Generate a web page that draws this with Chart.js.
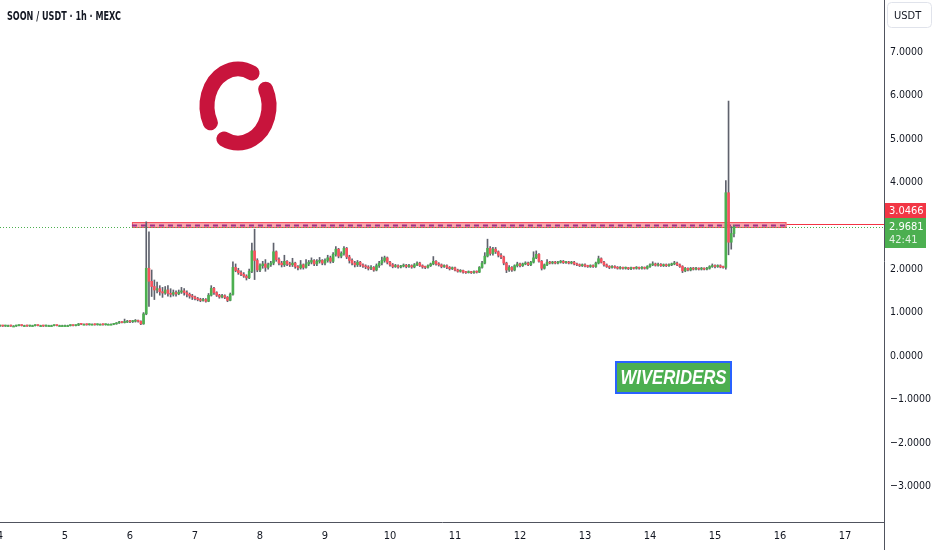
<!DOCTYPE html>
<html>
<head>
<meta charset="utf-8">
<script src="https://cdn.jsdelivr.net/npm/chart.js@4.4.1/dist/chart.umd.min.js"></script>
<style>
  html, body { margin: 0; padding: 0; background: #fff; }
  #wrap { width: 932px; height: 550px; }
</style>
</head>
<body>
<div id="wrap"><canvas id="chart" width="932" height="550"></canvas></div>
<script>
// SOON / USDT 1h candles, first candle at day 4 00:00
const startDay = 4;

const opens = [
  0.69,0.70,0.69,0.70,0.70,0.69,0.69,0.70,0.71,0.70,0.70,0.69,0.70,0.70,0.71,0.70,0.70,0.69,0.70,0.70,0.70,0.71,0.70,0.70, // 4
  0.70,0.70,0.70,0.71,0.70,0.71,0.74,0.73,0.73,0.72,0.73,0.73,0.72,0.73,0.73,0.72,0.73,0.73,0.73,0.74,0.76,0.78,0.77,0.78, // 5
  0.80,0.79,0.80,0.81,0.80,0.74,0.97,2.02,1.72,1.60,1.52,1.55,1.48,1.45,1.52,1.44,1.42,1.46,1.43,1.47,1.50,1.46,1.42,1.38, // 6
  1.36,1.32,1.30,1.28,1.30,1.26,1.40,1.56,1.46,1.40,1.36,1.39,1.35,1.28,1.42,2.04,1.97,1.92,1.88,1.84,1.80,1.95,2.42,2.20, // 7
  1.98,2.08,2.12,2.04,2.10,2.14,2.40,2.22,2.14,2.10,2.18,2.12,2.10,2.14,2.06,2.03,2.10,2.04,2.12,2.16,2.20,2.12,2.18,2.20, // 8
  2.14,2.20,2.26,2.18,2.34,2.46,2.30,2.36,2.48,2.28,2.20,2.14,2.10,2.16,2.10,2.07,2.05,2.02,2.04,1.98,2.08,2.14,2.20,2.26, // 9
  2.16,2.10,2.06,2.08,2.05,2.07,2.09,2.06,2.08,2.05,2.10,2.14,2.08,2.05,2.04,2.08,2.12,2.18,2.12,2.10,2.06,2.08,2.04,2.01, // 10
  2.03,1.98,1.95,1.97,1.93,1.92,1.94,1.92,1.94,1.93,2.04,2.14,2.30,2.48,2.36,2.46,2.40,2.32,2.28,2.14,1.98,2.04,1.98,2.08, // 11
  2.12,2.08,2.12,2.14,2.10,2.16,2.26,2.34,2.18,2.02,2.10,2.16,2.14,2.16,2.14,2.16,2.18,2.15,2.16,2.14,2.16,2.12,2.10,2.08, // 12
  2.10,2.07,2.06,2.08,2.06,2.14,2.24,2.16,2.10,2.06,2.04,2.06,2.04,2.02,2.04,2.02,2.03,2.01,2.03,2.02,2.04,2.02,2.04,2.02, // 13
  2.06,2.10,2.12,2.09,2.11,2.08,2.10,2.08,2.10,2.12,2.14,2.10,2.06,1.96,2.02,1.98,2.02,2.00,2.02,2.00,2.02,2.00,2.02,2.06, // 14
  2.08,2.06,2.08,2.05,2.04,3.76,2.62,2.82                                                                                  // 15
];
const highs = [
  0.71,0.71,0.71,0.71,0.71,0.70,0.71,0.72,0.72,0.71,0.71,0.71,0.71,0.72,0.72,0.71,0.71,0.71,0.71,0.71,0.72,0.72,0.71,0.71,
  0.71,0.71,0.72,0.72,0.72,0.75,0.75,0.74,0.74,0.74,0.74,0.74,0.74,0.74,0.74,0.74,0.74,0.74,0.75,0.77,0.80,0.79,0.85,0.82,
  0.82,0.82,0.84,0.83,0.81,1.00,3.09,2.86,1.98,1.75,1.70,1.62,1.58,1.60,1.62,1.55,1.52,1.50,1.52,1.58,1.55,1.50,1.45,1.42,
  1.38,1.35,1.33,1.33,1.32,1.44,1.62,1.58,1.48,1.42,1.42,1.41,1.37,1.45,2.17,2.12,2.02,1.96,1.92,1.87,2.00,2.60,2.92,2.24,
  2.12,2.18,2.22,2.14,2.18,2.60,2.42,2.26,2.18,2.32,2.20,2.16,2.25,2.16,2.08,2.20,2.12,2.22,2.20,2.26,2.22,2.22,2.27,2.22,
  2.24,2.32,2.30,2.38,2.52,2.48,2.40,2.52,2.50,2.32,2.24,2.18,2.20,2.18,2.12,2.10,2.08,2.08,2.06,2.12,2.18,2.28,2.30,2.28,
  2.18,2.13,2.11,2.10,2.09,2.12,2.11,2.11,2.10,2.13,2.17,2.16,2.10,2.07,2.10,2.14,2.29,2.20,2.15,2.12,2.10,2.10,2.06,2.05,
  2.05,2.00,1.99,1.98,1.95,1.96,1.95,1.96,1.96,2.06,2.18,2.38,2.69,2.52,2.50,2.50,2.42,2.36,2.30,2.16,2.08,2.06,2.10,2.16,
  2.14,2.14,2.17,2.16,2.18,2.40,2.42,2.36,2.20,2.12,2.22,2.18,2.18,2.18,2.18,2.20,2.20,2.18,2.18,2.18,2.18,2.14,2.12,2.12,
  2.12,2.09,2.10,2.10,2.16,2.30,2.26,2.18,2.12,2.08,2.08,2.08,2.06,2.06,2.05,2.05,2.04,2.05,2.04,2.06,2.05,2.06,2.05,2.08,
  2.12,2.17,2.14,2.14,2.13,2.12,2.12,2.12,2.14,2.18,2.16,2.12,2.08,2.04,2.03,2.04,2.04,2.04,2.03,2.04,2.03,2.04,2.08,2.12,
  2.10,2.10,2.10,2.07,4.04,5.87,2.98,3.02
];
const lows = [
  0.68,0.68,0.68,0.69,0.68,0.68,0.68,0.69,0.69,0.69,0.68,0.68,0.69,0.69,0.69,0.69,0.68,0.68,0.69,0.69,0.69,0.69,0.69,0.69,
  0.69,0.69,0.69,0.69,0.69,0.70,0.72,0.72,0.71,0.71,0.72,0.71,0.71,0.72,0.71,0.71,0.72,0.72,0.72,0.73,0.75,0.76,0.76,0.77,
  0.77,0.77,0.78,0.78,0.72,0.73,0.95,1.14,1.37,1.30,1.45,1.40,1.35,1.42,1.38,1.36,1.38,1.38,1.41,1.44,1.40,1.36,1.33,1.30,
  1.29,1.27,1.25,1.26,1.24,1.25,1.38,1.42,1.37,1.33,1.34,1.32,1.25,1.27,1.40,1.94,1.88,1.85,1.81,1.75,1.78,1.92,1.76,1.94,
  1.94,2.02,1.95,2.00,2.06,2.10,2.18,2.10,2.05,2.06,2.08,2.06,2.06,2.02,1.98,2.00,2.00,2.02,2.08,2.12,2.08,2.08,2.14,2.10,
  2.10,2.16,2.14,2.15,2.30,2.26,2.26,2.32,2.24,2.14,2.10,2.05,2.06,2.06,2.04,2.01,1.98,1.99,1.95,1.96,2.04,2.10,2.16,2.12,
  2.07,2.03,2.04,2.02,2.03,2.05,2.03,2.04,2.02,2.03,2.08,2.06,2.02,2.01,2.02,2.06,2.10,2.09,2.07,2.03,2.04,2.01,1.98,1.99,
  1.96,1.93,1.93,1.91,1.90,1.91,1.90,1.90,1.91,1.92,2.02,2.12,2.28,2.32,2.32,2.36,2.28,2.24,2.10,1.92,1.95,1.95,1.96,2.05,
  2.05,2.06,2.10,2.08,2.08,2.14,2.24,2.16,1.98,2.00,2.08,2.12,2.12,2.12,2.12,2.14,2.13,2.13,2.12,2.12,2.10,2.08,2.06,2.06,
  2.05,2.04,2.04,2.04,2.04,2.12,2.14,2.07,2.04,2.01,2.02,2.02,2.00,2.00,2.00,2.00,1.99,1.99,2.00,2.00,2.00,2.00,2.00,2.00,
  2.04,2.08,2.07,2.07,2.06,2.06,2.06,2.06,2.08,2.10,2.08,2.04,1.92,1.94,1.96,1.96,1.98,1.98,1.98,1.98,1.98,1.98,2.00,2.04,
  2.03,2.04,2.03,2.02,2.00,2.33,2.46,2.74
];
const closes = [
  0.70,0.69,0.70,0.70,0.69,0.69,0.70,0.71,0.70,0.70,0.69,0.70,0.70,0.71,0.70,0.70,0.69,0.70,0.70,0.70,0.71,0.70,0.70,0.70,
  0.70,0.70,0.71,0.70,0.71,0.74,0.73,0.73,0.72,0.73,0.73,0.72,0.73,0.73,0.72,0.73,0.73,0.73,0.74,0.76,0.78,0.77,0.78,0.80,
  0.79,0.80,0.81,0.80,0.74,0.97,2.02,1.72,1.60,1.52,1.55,1.48,1.45,1.52,1.44,1.42,1.46,1.43,1.47,1.50,1.46,1.42,1.38,1.36,
  1.32,1.30,1.28,1.30,1.26,1.40,1.56,1.46,1.40,1.36,1.39,1.35,1.28,1.42,2.04,1.97,1.92,1.88,1.84,1.80,1.95,2.42,2.20,1.98,
  2.08,2.12,2.04,2.10,2.14,2.40,2.22,2.14,2.10,2.18,2.12,2.10,2.14,2.06,2.03,2.10,2.04,2.12,2.16,2.20,2.12,2.18,2.20,2.14,
  2.20,2.26,2.18,2.34,2.46,2.30,2.36,2.48,2.28,2.20,2.14,2.10,2.16,2.10,2.07,2.05,2.02,2.04,1.98,2.08,2.14,2.20,2.26,2.16,
  2.10,2.06,2.08,2.05,2.07,2.09,2.06,2.08,2.05,2.10,2.14,2.08,2.05,2.04,2.08,2.12,2.18,2.12,2.10,2.06,2.08,2.04,2.01,2.03,
  1.98,1.95,1.97,1.93,1.92,1.94,1.92,1.94,1.93,2.04,2.14,2.30,2.48,2.36,2.46,2.40,2.32,2.28,2.14,1.98,2.04,1.98,2.08,2.12,
  2.08,2.12,2.14,2.10,2.16,2.26,2.34,2.18,2.02,2.10,2.16,2.14,2.16,2.14,2.16,2.18,2.15,2.16,2.14,2.16,2.12,2.10,2.08,2.10,
  2.07,2.06,2.08,2.06,2.14,2.24,2.16,2.10,2.06,2.04,2.06,2.04,2.02,2.04,2.02,2.03,2.01,2.03,2.02,2.04,2.02,2.04,2.02,2.06,
  2.10,2.12,2.09,2.11,2.08,2.10,2.08,2.10,2.12,2.14,2.10,2.06,1.96,2.02,1.98,2.02,2.00,2.02,2.00,2.02,2.00,2.02,2.06,2.08,
  2.06,2.08,2.05,2.04,3.76,2.62,2.82,2.9681
];

const dayTicks = [4, 5, 6, 7, 8, 9, 10, 11, 12, 13, 14, 15, 16, 17];
const priceTicks = [-3, -2, -1, 0, 1, 2, 3, 4, 5, 6, 7];

const lastPrice = 2.9681;
const countdown = '42:41';
const levelPrice = 3.0466;
// resistance zone drawn on the chart
const zoneStartDay = 6.03;
const zoneEndDay = 16.1;
const zoneTop = 3.085;
const zoneMid = 3.016;
const zoneBottom = 2.947;

const upColor = '#4caf50';
const downColor = '#f7525f';
const wickColor = '#5f626d';
const textColor = '#131722';
const narrowFont = "'DejaVu Sans Condensed', 'Liberation Sans', sans-serif";

const candleTimes = closes.map((c, i) => startDay + i / 24);
const bodyColors = closes.map((c, i) => c >= opens[i] ? upColor : downColor);

function fmtPrice(v) {
    return (v < 0 ? '\u2212' : '') + Math.abs(v).toFixed(4);
}

// Extra drawings: zone, level lines, price labels, logo, watermark, title
const overlay = {
    id: 'overlay',
    beforeDatasetsDraw(chart) {
        const { ctx, chartArea: a, scales: { x, y } } = chart;
        ctx.save();
        const zx1 = x.getPixelForValue(zoneStartDay);
        const zx2 = x.getPixelForValue(zoneEndDay);
        const zy1 = y.getPixelForValue(zoneTop);
        const zy2 = y.getPixelForValue(zoneBottom);
        ctx.fillStyle = 'rgba(242, 54, 69, 0.45)';
        ctx.fillRect(zx1, zy1, zx2 - zx1, zy2 - zy1);
        ctx.strokeStyle = 'rgba(242, 54, 69, 0.75)';
        ctx.lineWidth = 1;
        ctx.strokeRect(zx1 + 0.5, zy1 + 0.5, zx2 - zx1 - 1, zy2 - zy1 - 1);

        // dashed middle line
        const my = Math.round(y.getPixelForValue(zoneMid)) + 0.5;
        ctx.strokeStyle = '#a0308a';
        ctx.lineWidth = 2;
        ctx.setLineDash([5, 4]);
        ctx.beginPath();
        ctx.moveTo(zx1, my);
        ctx.lineTo(zx2, my);
        ctx.stroke();

        // last price dotted line
        const ly = Math.round(y.getPixelForValue(lastPrice)) + 0.5;
        ctx.strokeStyle = upColor;
        ctx.lineWidth = 1;
        ctx.setLineDash([1, 2]);
        ctx.beginPath();
        ctx.moveTo(a.left, ly);
        ctx.lineTo(a.right, ly);
        ctx.stroke();

        // level line to the axis
        const ry = Math.round(y.getPixelForValue(levelPrice)) + 0.5;
        ctx.setLineDash([]);
        ctx.strokeStyle = '#f23645';
        ctx.beginPath();
        ctx.moveTo(zx2, ry);
        ctx.lineTo(a.right, ry);
        ctx.stroke();
        ctx.restore();
    },
    afterDraw(chart) {
        const { ctx, chartArea: a, scales: { y } } = chart;
        ctx.save();

        // axis line continues into the time scale
        ctx.strokeStyle = '#50535e';
        ctx.lineWidth = 1;
        ctx.beginPath();
        ctx.moveTo(a.right + 0.5, a.bottom);
        ctx.lineTo(a.right + 0.5, chart.height);
        ctx.stroke();

        // USDT box
        ctx.strokeStyle = '#e0e3eb';
        ctx.beginPath();
        ctx.roundRect(887.5, 2.5, 44, 25, 4);
        ctx.stroke();
        ctx.fillStyle = textColor;
        ctx.font = '11px ' + narrowFont;
        ctx.textAlign = 'left';
        ctx.textBaseline = 'middle';
        ctx.fillText('USDT', 894, 16);

        // price labels
        const gy = y.getPixelForValue(lastPrice);
        const gTop = Math.round(gy) - 9;
        ctx.fillStyle = upColor;
        ctx.fillRect(a.right + 1, gTop, 41, 30);
        ctx.fillStyle = '#f23645';
        ctx.fillRect(a.right + 1, gTop - 15, 41, 15);
        ctx.font = '11px ' + narrowFont;
        ctx.fillStyle = '#ffffff';
        ctx.fillText(fmtPrice(levelPrice), a.right + 5, gTop - 7, 35);
        ctx.fillText(fmtPrice(lastPrice), a.right + 5, gTop + 9, 35);
        ctx.fillStyle = 'rgba(255,255,255,0.85)';
        ctx.fillText(countdown, a.right + 5, gTop + 22);

        // title
        ctx.fillStyle = textColor;
        ctx.font = '600 12px ' + narrowFont;
        ctx.fillText('SOON / USDT \u00b7 1h \u00b7 MEXC', 7, 17, 114);

        // logo ring
        const rad = d => d * Math.PI / 180;
        ctx.strokeStyle = '#c8143c';
        ctx.lineWidth = 15;
        ctx.lineCap = 'round';
        ctx.beginPath();
        ctx.ellipse(238, 106, 31, 37, 0, rad(-27), rad(117));
        ctx.stroke();
        ctx.beginPath();
        ctx.ellipse(238, 106, 31, 37, 0, rad(153), rad(297));
        ctx.stroke();

        // watermark
        ctx.lineCap = 'butt';
        ctx.fillStyle = upColor;
        ctx.fillRect(616, 362, 115, 31);
        ctx.strokeStyle = '#2962ff';
        ctx.lineWidth = 2;
        ctx.strokeRect(616, 362, 115, 31);
        ctx.fillStyle = '#ffffff';
        ctx.font = 'italic bold 20px "Liberation Sans", sans-serif';
        ctx.textAlign = 'center';
        ctx.fillText('WIVERIDERS', 673.5, 378, 106);
        ctx.restore();
    }
};

const ctx = document.getElementById('chart');

new Chart(ctx, {
    type: 'bar',
    data: {
        datasets: [{
            label: 'Body',
            data: candleTimes.map((t, i) => ({ x: t, y: [opens[i], closes[i]] })),
            backgroundColor: bodyColors,
            barThickness: 2,
            minBarLength: 1,
            grouped: false,
            order: 1
        }, {
            label: 'Wick',
            data: candleTimes.map((t, i) => ({ x: t, y: [lows[i], highs[i]] })),
            backgroundColor: wickColor,
            barThickness: 1,
            grouped: false,
            order: 2
        }]
    },
    options: {
        responsive: false,
        animation: false,
        layout: { padding: 0 },
        plugins: {
            legend: { display: false },
            tooltip: { enabled: false }
        },
        scales: {
            x: {
                type: 'linear',
                offset: false,
                min: 4,
                max: 17.6,
                grid: { display: false, drawTicks: false },
                border: { display: true, color: '#50535e' },
                afterBuildTicks: s => { s.ticks = dayTicks.map(v => ({ value: v })); },
                afterFit: s => { s.height = 28; s.paddingLeft = 0; s.paddingRight = 0; },
                ticks: {
                    autoSkip: false,
                    maxRotation: 0,
                    padding: 8,
                    color: textColor,
                    font: { family: narrowFont, size: 11 },
                    callback: v => String(v)
                }
            },
            y: {
                position: 'right',
                min: -3.822,
                max: 8.197,
                grid: { display: false, drawTicks: false },
                border: { display: true, color: '#50535e' },
                afterBuildTicks: s => { s.ticks = priceTicks.map(v => ({ value: v })); },
                afterFit: s => { s.width = 48; s.paddingTop = 0; s.paddingBottom = 0; },
                ticks: {
                    padding: 6,
                    color: textColor,
                    font: { family: narrowFont, size: 10.5 },
                    callback: v => fmtPrice(v)
                }
            }
        }
    },
    plugins: [overlay]
});
</script>
</body>
</html>
